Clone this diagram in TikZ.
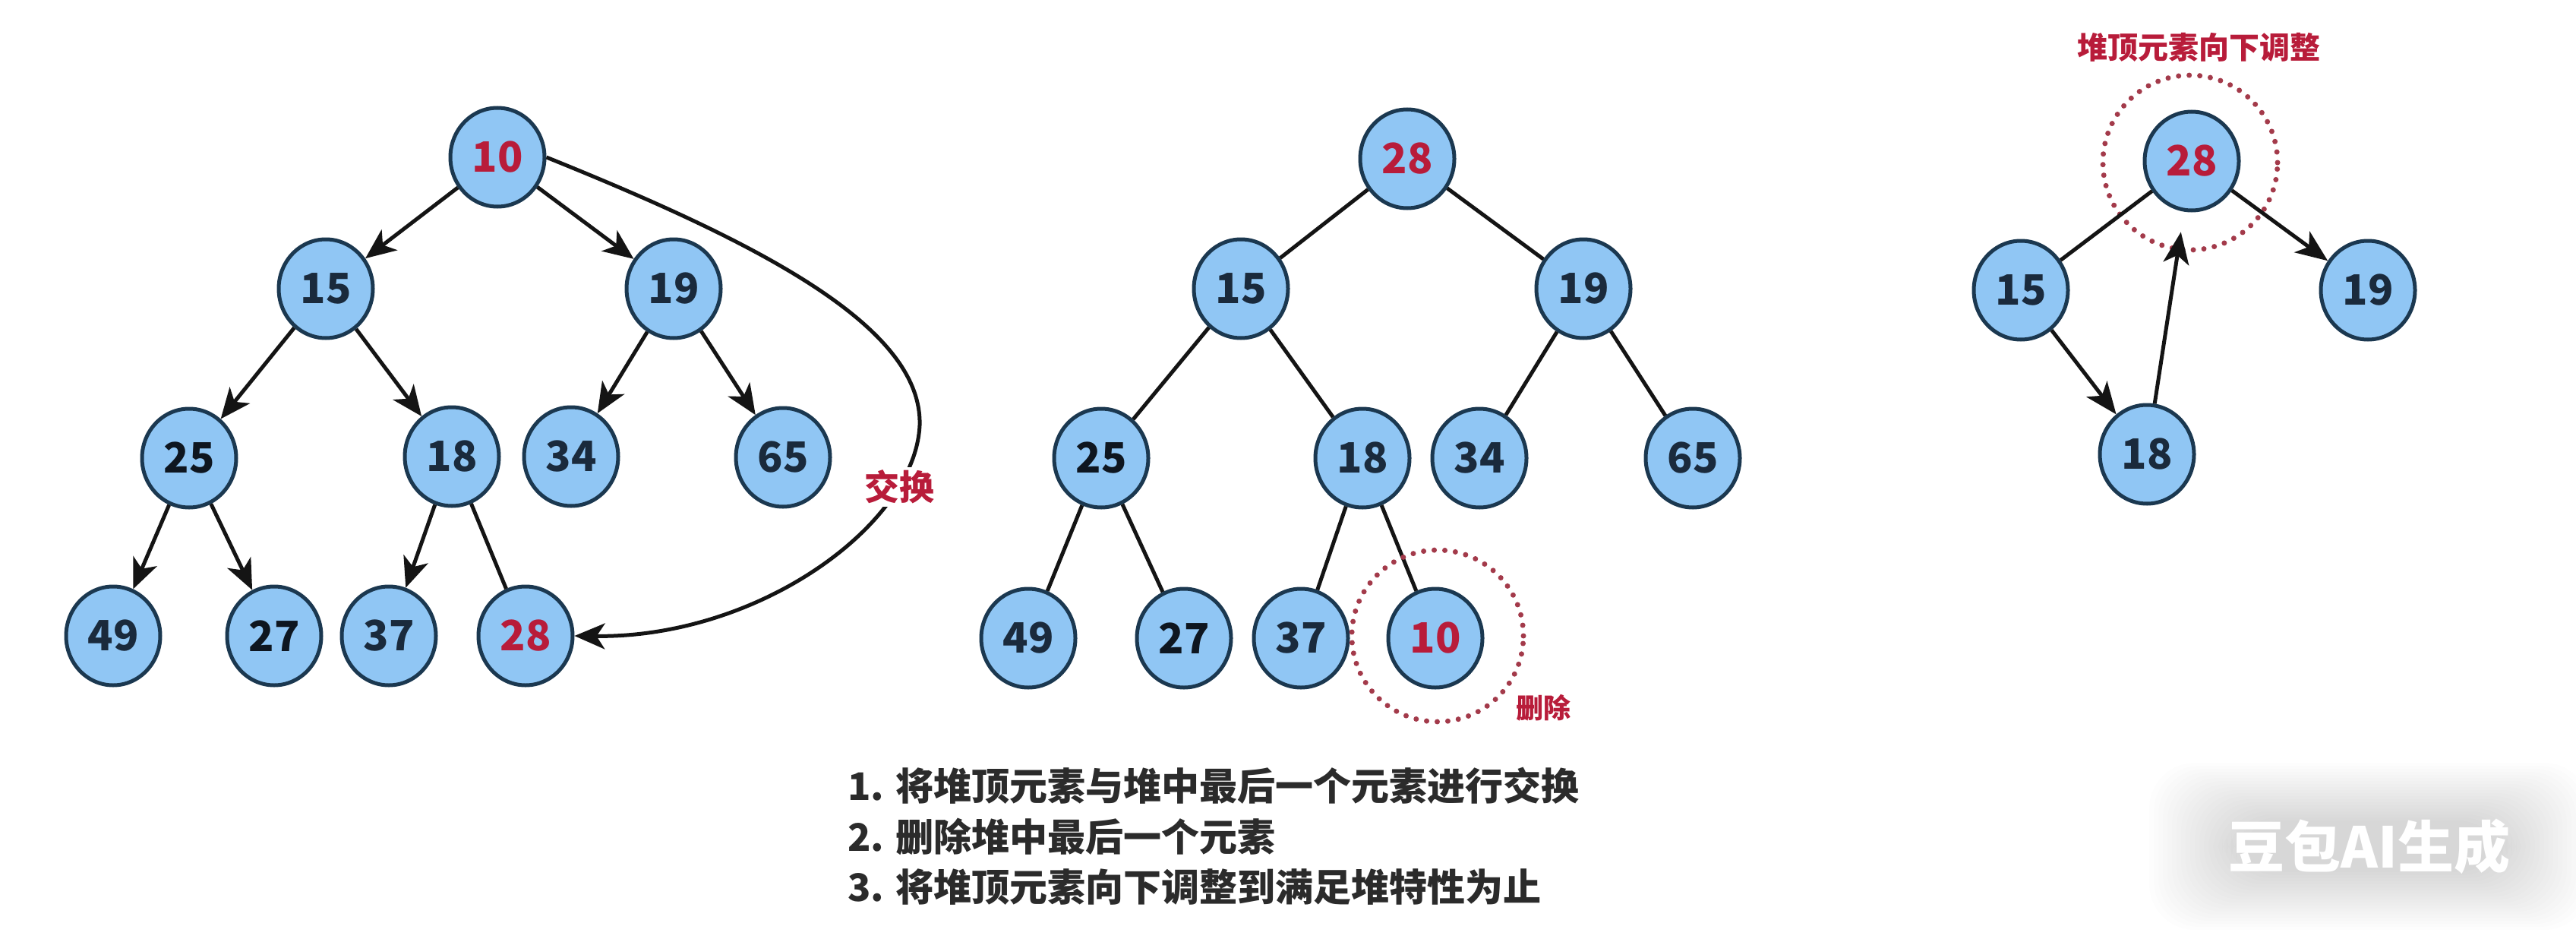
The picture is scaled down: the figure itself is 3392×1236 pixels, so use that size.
\documentclass[tikz,border=0pt]{standalone}
\usepackage{fontspec}
\setmainfont{Noto Sans CJK SC}
\usetikzlibrary{arrows.meta,shapes.geometric,calc}
\definecolor{nfill}{HTML}{90C6F4}
\definecolor{nborder}{HTML}{1B3850}
\definecolor{ndark}{HTML}{1A2A3C}
\definecolor{nblack}{HTML}{0E1620}
\definecolor{nred}{HTML}{B81C3A}
\definecolor{dotred}{HTML}{A33A4A}
\definecolor{txt}{HTML}{2B2B2B}
\begin{document}
\begin{tikzpicture}[x=1pt,y=-1pt,
  hn/.style={ellipse, draw=nborder, line width=5pt, fill=nfill,
    minimum width=124pt, minimum height=130pt, inner sep=0pt,
    font=\fontsize{55}{55}\selectfont\bfseries, text=ndark},
  rednum/.style={text=nred},
  blk/.style={text=nblack},
  edge/.style={draw=black!92, line width=5pt},
  arr/.style={edge, -{Stealth[length=40pt,width=34pt,inset=11pt]}},
  arrb/.style={edge, -{Stealth[length=42pt,width=34pt,inset=11pt]}},
  dotc/.style={draw=dotred, line width=7pt, dash pattern=on 0pt off 14pt, line cap=round},
  lab/.style={text=nred, font=\fontsize{46}{46}\selectfont\bfseries, inner sep=4pt},
  steptext/.style={anchor=west, text=txt, inner sep=0pt, font=\fontsize{50}{50}\selectfont\bfseries},
]
\useasboundingbox (0,0) rectangle (3392,1236);
\fill[white] (0,0) rectangle (3392,1236);

% ---------------- Tree 1 ----------------
\node[hn,rednum] (a10) at (655,207) {10};
\node[hn] (a15) at (429,380) {15};
\node[hn] (a19) at (887,380) {19};
\node[hn,blk] (a25) at (249,603) {25};
\node[hn] (a18) at (595,601) {18};
\node[hn] (a34) at (752,601) {34};
\node[hn] (a65) at (1031,602) {65};
\node[hn] (a49) at (149,837) {49};
\node[hn,blk] (a27) at (361,837) {27};
\node[hn] (a37) at (512,837) {37};
\node[hn,rednum] (a28) at (692,837) {28};

\draw[arr] (a10) -- (a15);
\draw[arr] (a10) -- (a19);
\draw[arr] (a15) -- (a25);
\draw[arr] (a15) -- (a18);
\draw[arr] (a19) -- (a34);
\draw[arr] (a19) -- (a65);
\draw[arr] (a25) -- (a49);
\draw[arr] (a25) -- (a27);
\draw[arr] (a18) -- (a37);
\draw[edge] (a18) -- (a28);

\coordinate (swapR) at (1211,560);
\draw[arr] (a10.east) .. controls (1000,320) and (1215,430) .. (swapR)
  .. controls (1205,690) and (1000,840) .. (a28.east);
\node[lab, fill=white] (swaplab) at (1184,641) {交换};

% ---------------- Tree 2 ----------------
\node[hn,rednum] (b28) at (1853,209) {28};
\node[hn] (b15) at (1634,380) {15};
\node[hn] (b19) at (2085,380) {19};
\node[hn,blk] (b25) at (1450,603) {25};
\node[hn] (b18) at (1794,603) {18};
\node[hn] (b34) at (1948,603) {34};
\node[hn] (b65) at (2229,603) {65};
\node[hn] (b49) at (1354,840) {49};
\node[hn,blk] (b27) at (1559,840) {27};
\node[hn] (b37) at (1713,840) {37};
\node[hn,rednum] (b10) at (1890,840) {10};

\draw[edge] (b28) -- (b15);
\draw[edge] (b28) -- (b19);
\draw[edge] (b15) -- (b25);
\draw[edge] (b15) -- (b18);
\draw[edge] (b19) -- (b34);
\draw[edge] (b19) -- (b65);
\draw[edge] (b25) -- (b49);
\draw[edge] (b25) -- (b27);
\draw[edge] (b18) -- (b37);
\draw[edge] (b18) -- (b10);

\node[circle, dotc, minimum size=226pt, inner sep=0pt] (delc) at (1893,837) {};
\node[text=nred, font=\fontsize{36}{36}\selectfont\bfseries, inner sep=0pt] (dellab) at (2032,932) {删除};

% ---------------- Tree 3 ----------------
\node[hn,rednum] (c28) at (2886,212) {28};
\node[hn] (c15) at (2661,382) {15};
\node[hn] (c19) at (3118,382) {19};
\node[hn] (c18) at (2827,598) {18};

\node[circle, dotc, minimum size=230pt, inner sep=0pt] (adjc) at (2884,214) {};
\draw[edge] (c28) -- (c15);
\draw[arrb] (c28) -- (c19);
\draw[arrb] (c15) -- (c18);
\draw[arrb, shorten >=27pt] (c18) -- (c28);
\node[text=nred, font=\fontsize{40}{40}\selectfont\bfseries, inner sep=0pt] (adjlab) at (2895,62) {堆顶元素向下调整};

% ---------------- Steps ----------------
\node[steptext] (s1) at (1116,1034) {1. 将堆顶元素与堆中最后一个元素进行交换};
\node[steptext] (s2) at (1116,1101) {2. 删除堆中最后一个元素};
\node[steptext] (s3) at (1116,1168) {3. 将堆顶元素向下调整到满足堆特性为止};

% ---------------- Watermark ----------------
\foreach \k in {0,...,19}{
  \fill[black, opacity=0.007, rounded corners=60pt]
    ($(3120,1114)+(-290+6*\k,-110+4*\k)$) rectangle ($(3120,1114)+(290-6*\k,110-4*\k)$);
}
\node[text=white, font=\fontsize{74}{74}\selectfont\bfseries, inner sep=0pt] (wm) at (3120,1114) {豆包AI生成};
\end{tikzpicture}
\end{document}
